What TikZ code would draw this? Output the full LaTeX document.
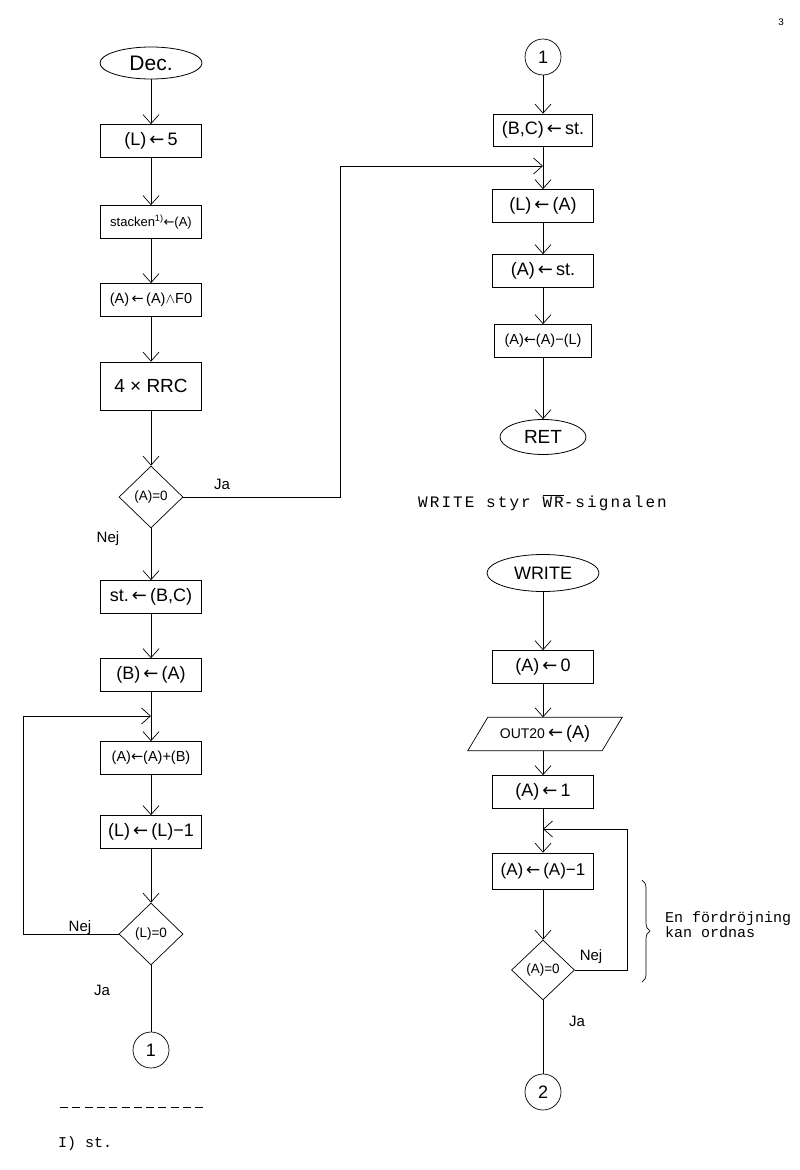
\documentclass[tikz,border=0pt]{standalone}
\usepackage{fontspec}
\setmainfont{Liberation Sans}
\newfontfamily\typefont{Liberation Mono}
\newfontfamily\typefontw[LetterSpace=13]{Liberation Mono}
\newfontfamily\arrfont{DejaVu Sans}
\usetikzlibrary{shapes.geometric,arrows.meta,decorations.pathreplacing}
\newcommand{\ar}{{\arrfont ←}}
\newcommand{\la}{\,\ar\,}
\begin{document}
\begin{tikzpicture}[x=1pt,y=-1pt,
  every node/.style={font=\fontsize{18}{21}\selectfont},
  box/.style={draw,rectangle,minimum width=101,minimum height=33,inner sep=0,line width=0.7pt},
  small/.style={font=\fontsize{14.5}{17}\selectfont},
  dia/.style={draw,diamond,aspect=1,minimum width=64,minimum height=62,inner sep=0,line width=0.7pt,font=\fontsize{13.5}{15}\selectfont},
  term/.style={draw,ellipse,inner sep=0,line width=0.8pt},
  conn/.style={draw,circle,minimum size=36,inner sep=0,line width=0.7pt},
  arr/.style={line width=0.7pt,-{Straight Barb[length=9pt,width=16pt]}},
  line/.style={line width=0.7pt},
  lbl/.style={font=\fontsize{15}{17}\selectfont},
  typed/.style={font=\typefont\fontsize{15}{15}\selectfont,inner sep=0}
]
\useasboundingbox (0,0) rectangle (800,1170);

% left column
\node[term,minimum width=102,minimum height=32,font=\fontsize{21}{22}\selectfont] (dec) at (151,63) {Dec.};
\node[box] (L5) at (151,141) {(L)\la 5};
\node[box,font=\fontsize{13}{15}\selectfont] (stk) at (151,222) {stacken\textsuperscript{1)}\ar(A)};
\node[box,small] (and) at (151,300) {(A)\la(A)$\wedge$F0};
\node[box,minimum height=48,font=\fontsize{19}{21}\selectfont] (rrc) at (151,386) {4 × RRC};
\node[dia] (a0) at (151,497) {(A)=0};
\node[box] (stbc) at (151,597) {st.\la(B,C)};
\node[box] (ba) at (151,675) {(B)\la(A)};
\coordinate (m1) at (151,716);
\coordinate (c1) at (23,716);
\node[box,small] (aab) at (151,758) {(A)\ar(A)+(B)};
\node[box] (ll1) at (151,832) {(L)\la(L)−1};
\node[dia] (l0) at (151,934) {(L)=0};
\node[conn] (k1) at (151,1050) {1};

\draw[arr] (dec) -- (L5);
\draw[arr] (L5) -- (stk);
\draw[arr] (stk) -- (and);
\draw[arr] (and) -- (rrc);
\draw[arr] (rrc) -- (a0);
\draw[arr] (a0) -- (stbc);
\draw[arr] (stbc) -- (ba);
\draw[line] (ba) -- (m1);
\draw[arr] (m1) -- (aab);
\draw[arr] (aab) -- (ll1);
\draw[arr] (ll1) -- (l0);
\draw[line] (l0) -- (k1);
\draw[arr] (l0.west) -| (c1) -- (m1);

\node[lbl] (ja1) at (222,484) {Ja};
\node[lbl] (nej1) at (108,539) {Nej};
\node[lbl] (nej2) at (80,928) {Nej};
\node[lbl] (ja2) at (102,990) {Ja};

% right top column
\node[conn] (k1b) at (543,57) {1};
\node[box,minimum width=99,minimum height=32] (bc) at (543,130) {(B,C)\la st.};
\coordinate (m2) at (543,166);
\coordinate (r1) at (340,166);
\node[box] (la) at (543,206) {(L)\la(A)};
\node[box] (ast) at (543,271) {(A)\la st.};
\node[box,small,minimum width=97] (aal) at (543,341) {(A)\ar(A)−(L)};
\node[term,minimum width=86,minimum height=35,font=\fontsize{19}{21}\selectfont] (ret) at (543,437) {RET};

\draw[arr] (k1b) -- (bc);
\draw[line] (bc) -- (m2);
\draw[arr] (m2) -- (la);
\draw[arr] (la) -- (ast);
\draw[arr] (ast) -- (aal);
\draw[arr] (aal) -- (ret);
\draw[arr] (a0.east) -| (r1) -- (m2);

\node[typed,anchor=base west,font=\typefontw\fontsize{16}{16}\selectfont] (note) at (418,507) {WRITE styr $\overline{\hbox{WR}}$-signalen};

% right bottom column
\node[term,minimum width=112,minimum height=37,font=\fontsize{18}{20}\selectfont] (wr) at (543,573) {WRITE};
\node[box] (a0w) at (543,667) {(A)\la 0};
\node[minimum width=154,minimum height=33,inner sep=0] (out) at (545,734) {{\fontsize{14}{15}\selectfont OUT20}\la(A)};
\draw[line] ([xshift=20pt]out.north west) -- (out.north east) -- ([xshift=-20pt]out.south east) -- (out.south west) -- cycle;
\node[box] (a1) at (543,792) {(A)\la 1};
\coordinate (m3) at (543,829);
\coordinate (r3) at (627,829);
\node[box,minimum height=36,font=\fontsize{17}{20}\selectfont] (aa1) at (543,871) {(A)\la(A)−1};
\node[dia,minimum width=63,minimum height=60] (d2) at (543,970) {(A)=0};
\node[conn] (k2) at (543,1092) {2};

\draw[arr] (wr) -- (a0w);
\draw[arr] (a0w.south) -- (a0w.south |- out.north);
\draw[arr] (out.south -| a1.north) -- (a1.north);
\draw[line] (a1) -- (m3);
\draw[arr] (m3) -- (aa1);
\draw[arr] (aa1) -- (d2);
\draw[line] (d2) -- (k2);
\draw[arr] (d2.east) -| (r3) -- (m3);

\node[lbl] (nej3) at (591,957) {Nej};
\node[lbl] (ja3) at (577,1021) {Ja};

\draw[line,decorate,decoration={brace,amplitude=8pt}] (642,880) -- (642,982);
\node[typed,anchor=north west,align=left] (delay) at (665,911) {En fördröjning\\kan ordnas};

% footnote
\draw[line,dash pattern=on 8pt off 4.3pt] (60,1107) -- (206,1107);
\node[typed,anchor=base west] (fn) at (58,1147) {I) st.};
\node[typed,font=\typefont\fontsize{10}{10}\selectfont] (pg) at (781,22) {3};
\end{tikzpicture}
\end{document}
